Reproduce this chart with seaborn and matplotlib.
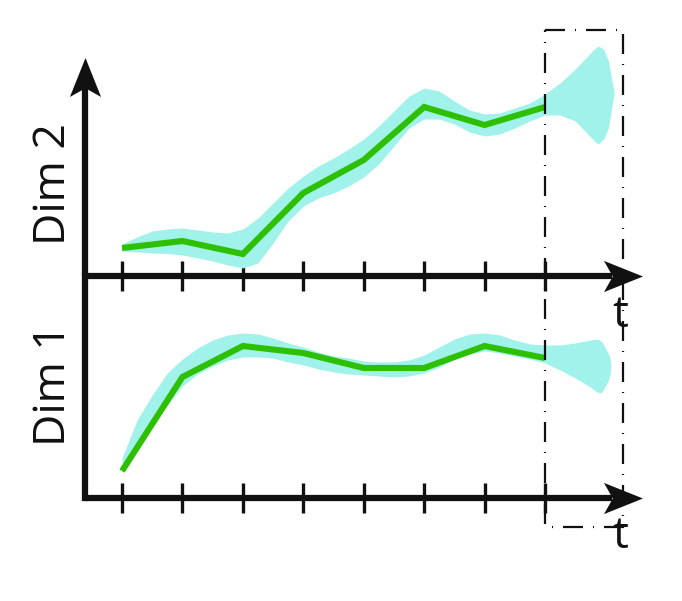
import matplotlib.pyplot as plt
import seaborn as sns
from matplotlib.patches import Rectangle
from matplotlib.path import Path

# observed time steps and the two series
steps = [0, 1, 2, 3, 4, 5, 6, 7]
dim2_mean = [28, 35, 22, 83, 116, 169, 151, 169]
dim1_mean = [27, 121, 152, 145, 130, 130, 152, 140]

# uncertainty band for Dim 2, read along t (the part after t=7 is the forecast bulb)
dim2_band_t = [0, 0.25, 0.5, 0.75, 1, 1.25, 1.5, 1.75, 2, 2.25, 2.5, 2.75, 3, 3.25, 3.5,
               3.75, 4, 4.25, 4.5, 4.75, 5, 5.25, 5.5, 5.75, 6, 6.25, 6.5, 6.75, 7,
               7.25, 7.5, 7.69, 7.8, 7.88, 7.97, 8.05, 8.1, 8.13, 8.145]
dim2_band_hi = [32, 39, 45, 47, 48, 46, 44, 43, 47, 58, 73, 88, 100, 110, 118,
                127, 137, 150, 165, 180, 188, 185, 175, 166, 162, 163, 168, 173, 182,
                193, 207, 219, 226, 230, 227, 215, 198, 188, 183]
dim2_band_lo = [25, 24, 23, 22.5, 21, 18, 15, 11, 8, 13, 33, 55, 70, 78, 83,
                90, 99, 112, 130, 148, 157, 157, 152, 144, 140, 142, 148, 155, 161,
                161, 155, 143, 136, 132, 137, 148, 167, 178, 183]

# uncertainty band for Dim 1
dim1_band_t = [0, 0.25, 0.5, 0.75, 1, 1.25, 1.5, 1.75, 2, 2.25, 2.5, 2.75, 3, 3.25, 3.5,
               3.75, 4, 4.25, 4.5, 4.75, 5, 5.25, 5.5, 5.75, 6, 6.25, 6.5, 6.75, 7,
               7.25, 7.5, 7.75, 7.86, 7.93, 8.0, 8.05, 8.075, 8.09]
dim1_band_hi = [40, 78, 103, 125, 139, 150, 158, 163, 165, 164, 160, 155, 151, 146, 142,
                140, 137, 136, 136, 138, 143, 151, 159, 164, 165, 163, 158, 154, 153,
                153, 155, 158, 159, 157, 150, 144, 140, 131]
dim1_band_lo = [27, 48, 72, 93, 112, 124, 132, 138, 141, 141, 140, 136, 133, 129, 126,
                124, 123, 122, 121, 122, 125, 131, 139, 144, 147, 145, 142, 139, 135,
                128, 120, 111, 106, 105, 112, 118, 123, 131]

W_PX, H_PX = 682, 601
INK = "#111111"
GREEN = "#2dbf00"
BAND = "#a0f2ea"
FONT = ["Open Sans", "DejaVu Sans"]

# pixel layout
T0_PX, STEP_PX = 122, 60.43
LEFT_PX, RIGHT_PX = 85, 642
AXIS_LW = 4.5
HEAD_PX = 39  # arrow head length


def fx(px):
    return px / W_PX


def fy(py):
    return 1 - py / H_PX


def to_t(px):
    return (px - T0_PX) / STEP_PX


# наконечник стрелки с вогнутым хвостом
def head_marker(vertical=False):
    pts = [(1, 0), (-1, 0.8), (-0.55, 0), (-1, -0.8), (1, 0)]
    if vertical:
        pts = [(-y, x) for x, y in pts]
    codes = [Path.MOVETO, Path.LINETO, Path.LINETO, Path.LINETO, Path.CLOSEPOLY]
    return Path(pts, codes)


sns.set_style("white")
plt.rcParams["font.family"] = FONT

fig = plt.figure(figsize=(W_PX / 100, H_PX / 100), dpi=100)
xlim = (to_t(LEFT_PX), to_t(RIGHT_PX))
width = fx(RIGHT_PX) - fx(LEFT_PX)

ax_top = fig.add_axes([fx(LEFT_PX), fy(276), width, fy(30) - fy(276)])
ax_bot = fig.add_axes([fx(LEFT_PX), fy(498), width, fy(276) - fy(498)])
ax_top.set_ylim(0, 246)
ax_bot.set_ylim(0, 222)
head_size = HEAD_PX * 0.72

"Полосы и линии"
for ax, bt, lo, hi, mean in [
    (ax_top, dim2_band_t, dim2_band_lo, dim2_band_hi, dim2_mean),
    (ax_bot, dim1_band_t, dim1_band_lo, dim1_band_hi, dim1_mean),
]:
    ax.set_xlim(*xlim)
    ax.fill_between(bt, lo, hi, color=BAND, linewidth=0, zorder=1, clip_on=False)
    sns.lineplot(x=steps, y=mean, color=GREEN, linewidth=4.4, ax=ax, zorder=2,
                 solid_joinstyle="miter", solid_capstyle="butt")
    for spine in ax.spines.values():
        spine.set_visible(False)
    ax.set_xticks(steps)
    ax.set_yticks([])
    ax.tick_params(axis="x", bottom=True, direction="inout", length=22, width=2.4,
                   color=INK, labelbottom=False)
    ax.set_xlabel("")
    ax.set_facecolor("none")
    # ось времени со стрелкой
    ax.plot([xlim[0], to_t(RIGHT_PX - 30)], [0, 0], color=INK, lw=AXIS_LW,
            clip_on=False, solid_capstyle="butt", zorder=3)
    ax.plot([to_t(RIGHT_PX - HEAD_PX / 2)], [0], marker=head_marker(),
            markersize=head_size, color=INK, mew=0, clip_on=False, zorder=3)

"Ось значений"
ax_top.plot([xlim[0], xlim[0]], [0, 276 - 57 - 30], color=INK, lw=AXIS_LW,
            clip_on=False, solid_capstyle="butt", zorder=3)
ax_top.plot([xlim[0]], [276 - 57 - HEAD_PX / 2], marker=head_marker(vertical=True),
            markersize=head_size, color=INK, mew=0, clip_on=False, zorder=3)
ax_bot.plot([xlim[0], xlim[0]], [0, 222], color=INK, lw=AXIS_LW,
            clip_on=False, solid_capstyle="projecting", zorder=3)

"Рамка прогноза"
ax_over = fig.add_axes([fx(LEFT_PX), 0, width, 1])
ax_over.set_xlim(*xlim)
ax_over.set_ylim(H_PX, 0)
ax_over.axis("off")
ax_over.add_patch(Rectangle((steps[-1], 30), to_t(623) - steps[-1], 497, fill=False,
                            lw=1.6, ec="#111111", ls=(0, (9, 4.5, 0.45, 4.5))))

"Подписи"
fig.text(fx(54), fy(184), "Dim 2", rotation=90, ha="center", va="center",
         fontsize=32, color=INK)
fig.text(fx(54), fy(385), "Dim 1", rotation=90, ha="center", va="center",
         fontsize=32, color=INK)
fig.text(fx(620), fy(316), "t", ha="center", va="center", fontsize=32, color=INK)
fig.text(fx(620), fy(537), "t", ha="center", va="center", fontsize=32, color=INK)

fig.savefig("out.png", dpi=100, facecolor="white")
plt.close(fig)
